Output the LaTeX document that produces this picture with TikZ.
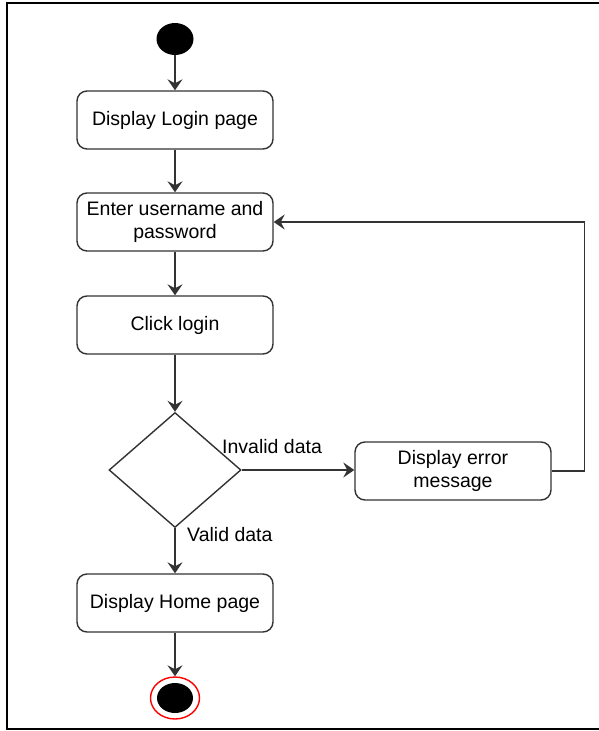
\documentclass[tikz,border=0pt]{standalone}
\usepackage{fontspec}
\setmainfont{Liberation Sans}
\usetikzlibrary{shapes.geometric,arrows.meta}

\tikzset{
  action/.style={draw=black!80, line width=1.4pt, rounded corners=10pt, fill=white,
    minimum width=196pt, minimum height=58pt, inner sep=0pt, align=center,
    font=\fontsize{19.5}{23.5}\selectfont},
  flow/.style={draw=black!80, line width=1.4pt, -{Stealth[length=11pt,width=15pt,inset=4pt]}},
  guard/.style={font=\fontsize{19.5}{23.5}\selectfont, inner sep=0pt, anchor=west}
}

\begin{document}
\begin{tikzpicture}[x=1pt,y=-1pt]
   \useasboundingbox (0,0) rectangle (598,731);
   % frame
   \draw[line width=2pt] (600,3) -- (7,3) -- (7,729) -- (600,729);

   \node[ellipse, fill=black, minimum width=37pt, minimum height=32pt, inner sep=0pt] (start) at (175,39) {};
   \node[action] (login) at (175,120) {Display Login page};
   \node[action] (enter) at (175,222) {Enter username and\\password};
   \node[action] (click) at (175,325) {Click login};
   \node[diamond, draw=black!80, line width=1.4pt, minimum width=132pt, minimum height=115pt, inner sep=0pt] (check) at (175,470) {};
   \node[action] (error) at (453,471) {Display error\\message};
   \node[action] (home) at (175,603) {Display Home page};
   \node[ellipse, draw=red, line width=1.4pt, minimum width=49pt, minimum height=42pt, inner sep=0pt] (stop) at (175,698) {};
   \node[ellipse, fill=black, minimum width=36pt, minimum height=30pt, inner sep=0pt] (stopdot) at (stop) {};

   \draw[flow] (start) -- (login);
   \draw[flow] (login) -- (enter);
   \draw[flow] (enter) -- (click);
   \draw[flow] (click) -- (check.north);
   \draw[flow] (check.east) -- (error.west |- check.east);
   \draw[flow] (check.south) -- (home.north);
   \draw[flow] (home) -- (stop.north);
   \draw[flow] (error.east) -- ++(33,0) |- (enter.east);

   \node[guard] (invalid) at (222,447) {Invalid data};
   \node[guard] (valid) at (187,535) {Valid data};
\end{tikzpicture}
\end{document}
